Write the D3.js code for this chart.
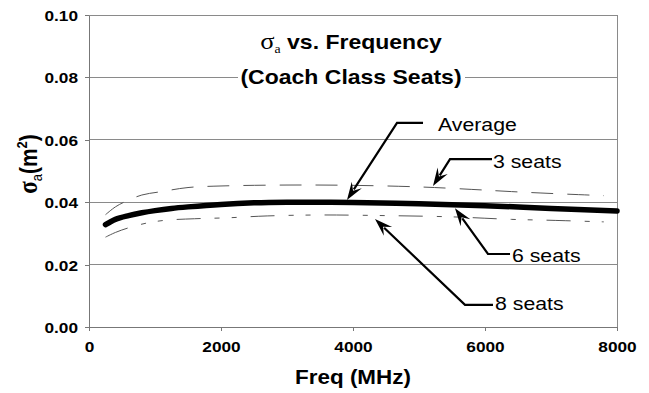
<!DOCTYPE html>
<html><head><meta charset="utf-8">
<script src="https://cdn.jsdelivr.net/npm/d3@7"></script>
<style>body{margin:0;background:#fff} svg{display:block}</style></head>
<body>
<script>
// ---- data ----
const freqAvg   = [250, 400, 600, 800, 1000, 1250, 1500, 2000, 2500, 3000, 3500, 4000, 5000, 6000, 7000, 8000];
const avgValues = [0.0328, 0.0345, 0.0357, 0.0366, 0.0373, 0.0380, 0.0385, 0.0393, 0.0398, 0.0400, 0.0400, 0.0399, 0.0395, 0.0389, 0.0380, 0.0372];
const six_values= [0.0326, 0.0343, 0.0355, 0.0364, 0.0371, 0.0378, 0.0383, 0.0391, 0.0396, 0.0398, 0.0398, 0.0397, 0.0393, 0.0387, 0.0378, 0.0370];
const freq3     = [250, 400, 550, 800, 1100, 1500, 2000, 3000, 4000, 5000, 5800, 6400, 7000, 7800];
const three_values = [0.0360, 0.0385, 0.0402, 0.0423, 0.0434, 0.0447, 0.0452, 0.0455, 0.0454, 0.0449, 0.0441, 0.0434, 0.0428, 0.0421];
const freq8     = [250, 400, 600, 850, 1150, 1600, 2100, 2700, 3500, 4500, 5500, 6400, 7000, 7800];
const eight_values = [0.0288, 0.0303, 0.0318, 0.0332, 0.0342, 0.0347, 0.0350, 0.0356, 0.0359, 0.0357, 0.0353, 0.0345, 0.0342, 0.0337];
const xTicks = [0, 2000, 4000, 6000, 8000];
const yTicks = [0, 0.02, 0.04, 0.06, 0.08, 0.10];
const labels = ["Average", "3 seats", "6 seats", "8 seats"];
// annotation anchors in data units: tip, elbow, end of leader, text position
const annTip   = [[3909, 0.0407], [5212, 0.0452], [5545, 0.0381], [4333, 0.0346]];
const annElbow = [[4667, 0.0654], [5470, 0.0538], [6045, 0.0234], [5697, 0.0071]];
const annEnd   = [[5061, 0.0654], [6106, 0.0538], [6379, 0.0234], [6121, 0.0071]];
const annText  = [[5288, 0.0628], [6121, 0.0510], [6409, 0.0208], [6152, 0.0054]];

// ---- drawing ----
const W = 649, H = 393, SX = 1.15;
const svg = d3.select("body").append("svg").attr("width", W).attr("height", H);
const x = d3.scaleLinear().domain([0, 8000]).range([89, 617]);
const y = d3.scaleLinear().domain([0, 0.1]).range([327, 15]);
const SANS = '"Liberation Sans", Arial, Helvetica, sans-serif';
const SERIF = '"Liberation Serif", "Times New Roman", serif';

function txt(g, px, py, str, size, weight, anchor) {
  return g.append("text")
    .attr("transform", `translate(${px},${py}) scale(${SX},1)`)
    .attr("text-anchor", anchor)
    .style("font-family", SANS).style("font-size", size + "px")
    .style("font-weight", weight).attr("fill", "#000").text(str);
}

// gridlines
svg.append("g").selectAll("line").data(yTicks.filter(d => d > 0)).join("line")
  .attr("x1", x(0)).attr("x2", x(8000)).attr("y1", d => y(d)).attr("y2", d => y(d))
  .attr("stroke", "#8a8a8a").attr("stroke-width", 1).attr("shape-rendering", "crispEdges");
// right border
svg.append("line").attr("x1", x(8000)).attr("x2", x(8000)).attr("y1", y(0)).attr("y2", y(0.1))
  .attr("stroke", "#8a8a8a").attr("shape-rendering", "crispEdges");

// axes
const gy = svg.append("g").attr("transform", `translate(${x(0)},0)`)
  .call(d3.axisLeft(y).tickValues(yTicks).tickSize(4).tickSizeOuter(0).tickFormat(d3.format(".2f")));
const gx = svg.append("g").attr("transform", `translate(0,${y(0)})`)
  .call(d3.axisBottom(x).tickValues(xTicks).tickSize(4).tickSizeOuter(0).tickFormat(d3.format("d")));
[gy, gx].forEach(g => {
  g.select(".domain").attr("stroke", "#777").attr("shape-rendering", "crispEdges");
  g.selectAll(".tick line").attr("stroke", "#777").attr("shape-rendering", "crispEdges");
  g.selectAll(".tick text").style("font-family", SANS).style("font-size", "15px")
    .style("font-weight", "bold").attr("fill", "#000");
});
gy.selectAll(".tick text").attr("x", 0).attr("dy", null).attr("text-anchor", "end")
  .attr("transform", `translate(-11,5.5) scale(${SX},1)`);
gx.selectAll(".tick text").attr("y", 0).attr("dy", null).attr("text-anchor", "middle")
  .attr("transform", `translate(0,24.5) scale(${SX},1)`);

// series
const line = d3.line().x(d => x(d[0])).y(d => y(d[1])).curve(d3.curveCatmullRom);
const zip = (a, b) => a.map((v, i) => [v, b[i]]);
svg.append("path").datum(zip(freq8, eight_values)).attr("d", line)
  .attr("fill", "none").attr("stroke", "#555").attr("stroke-width", 1)
  .attr("stroke-dasharray", "24,14,5,12,5,14");
svg.append("path").datum(zip(freq3, three_values)).attr("d", line)
  .attr("fill", "none").attr("stroke", "#555").attr("stroke-width", 1)
  .attr("stroke-dasharray", "22,14");
svg.append("path").datum(zip(freqAvg, six_values)).attr("d", line)
  .attr("fill", "none").attr("stroke", "#444").attr("stroke-width", 1);
svg.append("path").datum(zip(freqAvg, avgValues)).attr("d", line)
  .attr("fill", "none").attr("stroke", "#000").attr("stroke-width", 5.5)
  .attr("stroke-linecap", "round").attr("stroke-linejoin", "round");

// title
const tg = svg.append("g");
const t1 = tg.append("text").attr("transform", `translate(351,49) scale(${SX},1)`)
  .attr("text-anchor", "middle").style("font-family", SANS).style("font-size", "20px")
  .style("font-weight", "bold");
t1.append("tspan").style("font-family", SERIF).style("font-weight", "normal").style("font-size", "23px").text("σ");
t1.append("tspan").style("font-family", SERIF).style("font-weight", "normal").style("font-size", "12px").attr("dy", 4).text("a");
t1.append("tspan").attr("dy", -4).text(" vs. Frequency");
tg.append("rect").attr("x", 238).attr("y", 66).attr("width", 227).attr("height", 24).attr("fill", "#fff");
txt(tg, 351, 84, "(Coach Class Seats)", 20, "bold", "middle");

// y axis title
const yt = svg.append("text").attr("transform", `translate(37,164) scale(${SX},1) rotate(-90)`)
  .attr("text-anchor", "middle").style("font-family", SANS).style("font-size", "21px").style("font-weight", "bold");
yt.append("tspan").style("font-family", SERIF).style("font-size", "23px").text("σ");
yt.append("tspan").style("font-size", "13px").style("font-weight", "normal").attr("dy", 4).text("a");
yt.append("tspan").attr("dy", -4).text("(m");
yt.append("tspan").style("font-size", "13px").attr("dy", -9).text("2");
yt.append("tspan").attr("dy", 9).text(")");

// x axis title
txt(svg, 353, 384, "Freq (MHz)", 19.5, "bold", "middle");

// annotations
const ag = svg.append("g");
labels.forEach((lab, i) => {
  const tip = [x(annTip[i][0]), y(annTip[i][1])];
  const el = [x(annElbow[i][0]), y(annElbow[i][1])];
  const en = [x(annEnd[i][0]), y(annEnd[i][1])];
  const ang = Math.atan2(tip[1] - el[1], tip[0] - el[0]);
  const L = 18, Wd = 12;
  const back = [tip[0] - Math.cos(ang) * L * 0.7, tip[1] - Math.sin(ang) * L * 0.7];
  ag.append("path").attr("d", d3.line()([en, el, back]))
    .attr("fill", "none").attr("stroke", "#000").attr("stroke-width", 2.2);
  const pts = [[0, 0], [-L, -Wd / 2], [-L * 0.62, 0], [-L, Wd / 2]];
  ag.append("polygon")
    .attr("points", pts.map(p => p.join(",")).join(" "))
    .attr("transform", `translate(${tip[0]},${tip[1]}) rotate(${ang * 180 / Math.PI})`)
    .attr("fill", "#000");
  txt(ag, x(annText[i][0]), y(annText[i][1]), lab, 18.5, "normal", "start");
});
</script>
</body></html>
